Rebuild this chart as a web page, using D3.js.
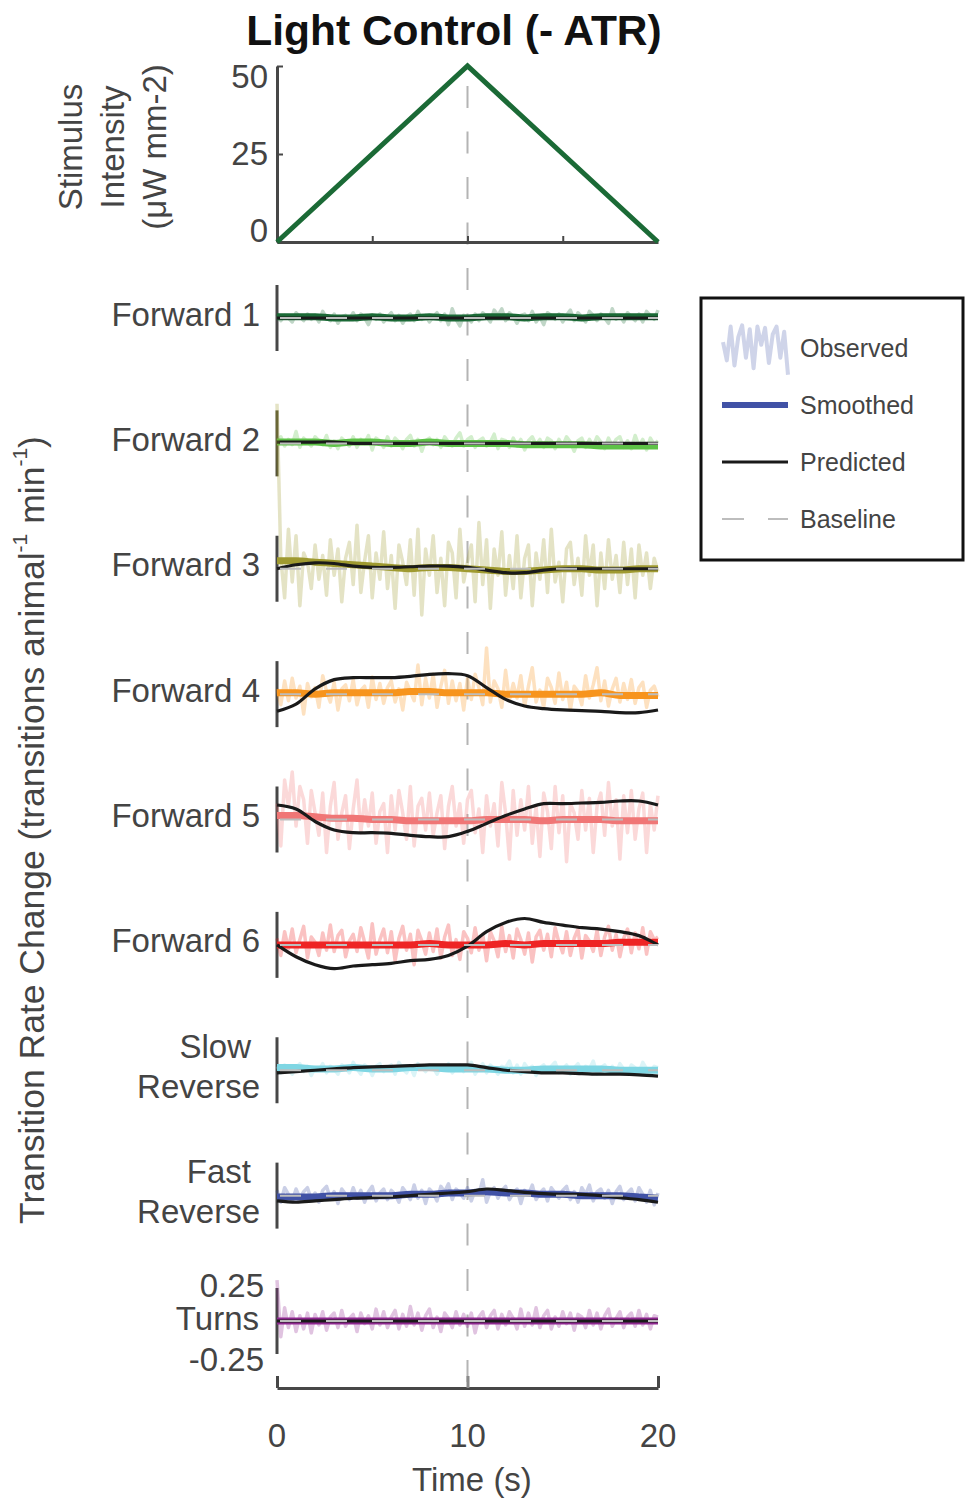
<!DOCTYPE html>
<html>
<head>
<meta charset="utf-8">
<script src="https://cdn.jsdelivr.net/npm/d3@7"></script>
<style>
  body { margin: 0; background: #fff; }
  svg { display: block; }
  text { font-family: "Liberation Sans", Arial, Helvetica, sans-serif; }
</style>
</head>
<body>
<svg id="chart" width="969" height="1501"></svg>
<script>
// ---- data ----
const behaviors = ["Forward 1", "Forward 2", "Forward 3", "Forward 4", "Forward 5",
  "Forward 6", "Slow Reverse", "Fast Reverse", "Turns"];
const behaviorColors = ["#1b6a36", "#5ec247", "#9f9a30", "#f7941d", "#f07676",
  "#ee2424", "#7fd6e3", "#4152a6", "#8e278f"];

const stimTimes = [0, 10, 20];
const stimValues = [0, 50, 0];
const stimTicks = [0, 25, 50];
const timeTicks = [0, 10, 20];
const turnTicks = [0.25, -0.25];

// observed traces, one sample every 0.2 s
const OBS_DT = 0.2;
const obsF1 = [0.03,-0.02,0.02,0.00,-0.03,0.04,0.01,-0.02,0.03,-0.01,
  0.02,-0.03,0.05,0.00,-0.02,0.03,-0.04,0.01,0.02,-0.01,
  0.04,-0.02,0.03,0.00,-0.05,0.02,-0.01,0.03,-0.03,0.01,
  0.04,-0.02,0.02,-0.04,0.01,0.03,-0.02,0.05,-0.01,0.02,
  -0.03,0.01,0.04,-0.02,0.03,-0.05,0.07,-0.01,-0.06,0.02,
  0.01,-0.03,0.03,-0.02,0.04,0.01,-0.03,0.06,0.02,0.07,
  -0.02,0.04,0.01,-0.04,0.02,0.03,-0.02,0.05,-0.03,0.01,
  -0.05,0.04,0.02,-0.01,0.03,-0.03,0.02,0.06,-0.02,0.04,
  0.01,-0.03,0.05,0.02,-0.02,0.03,0.00,-0.04,0.07,-0.01,
  0.02,-0.03,0.04,0.01,-0.02,0.03,-0.03,0.05,0.02,-0.01,0.06];
const obsF2 = [0.02,0.05,-0.02,0.03,-0.01,0.09,-0.03,0.04,0.01,-0.02,
  0.05,0.02,-0.01,0.06,-0.03,0.02,-0.04,0.04,0.01,-0.02,
  0.05,-0.03,0.03,0.00,0.06,-0.05,0.04,0.02,-0.03,0.05,
  -0.02,0.04,0.01,-0.04,0.03,0.06,-0.02,0.03,-0.06,0.02,
  0.04,-0.01,0.03,-0.03,0.05,0.01,-0.02,0.04,0.08,-0.02,
  0.03,0.05,-0.03,0.02,0.04,-0.02,0.01,0.07,-0.04,0.03,
  0.02,-0.03,0.04,-0.02,0.03,-0.05,0.02,0.05,-0.01,0.03,
  -0.03,0.04,0.02,-0.04,0.03,-0.02,0.05,0.01,-0.06,0.02,
  0.04,-0.03,0.03,-0.02,0.05,0.01,-0.04,0.04,-0.02,0.03,
  0.05,-0.03,0.02,-0.04,0.06,-0.02,0.03,-0.05,0.04,-0.01,0.02];
const obsF3 = [1.25,0.08,-0.22,0.30,-0.10,0.25,-0.28,0.12,0.05,-0.15,
  0.18,-0.08,0.10,-0.20,0.22,-0.05,0.15,-0.25,0.08,0.20,
  -0.12,0.33,-0.18,0.06,0.25,-0.22,0.12,-0.08,0.28,-0.15,
  0.10,-0.30,0.18,0.05,-0.12,0.22,-0.20,0.30,-0.35,0.15,
  -0.05,0.25,-0.18,0.08,-0.28,0.20,0.12,-0.22,0.30,-0.10,
  0.05,0.18,-0.25,0.35,-0.12,0.22,-0.30,0.15,-0.05,0.28,
  -0.20,0.10,-0.15,0.25,-0.22,0.08,0.18,-0.28,0.12,-0.08,
  0.22,-0.18,0.30,-0.10,0.05,-0.25,0.15,0.20,-0.12,0.08,
  -0.20,0.25,-0.05,0.18,-0.28,0.12,-0.15,0.22,-0.08,0.10,
  -0.18,0.20,-0.12,0.15,-0.22,0.18,-0.05,0.12,-0.15,0.08,-0.02];
const obsF4 = [0.04,-0.08,0.10,-0.05,0.12,-0.03,0.06,-0.15,0.08,-0.02,
  0.05,-0.10,0.14,0.02,-0.06,0.09,-0.12,0.04,0.07,-0.05,
  0.11,-0.08,0.03,0.06,-0.10,0.13,-0.04,0.08,-0.07,0.05,
  0.10,-0.06,0.04,-0.12,0.09,0.02,-0.05,0.22,-0.08,0.12,
  -0.03,0.15,-0.10,0.06,0.18,-0.07,0.10,-0.05,0.08,-0.12,
  0.12,-0.04,0.15,0.05,-0.08,0.35,-0.06,0.10,0.04,-0.10,
  0.18,-0.05,0.08,-0.03,0.14,-0.09,0.06,0.20,-0.06,0.03,
  -0.10,0.12,0.05,-0.07,0.16,-0.04,0.09,-0.12,0.06,0.02,
  -0.08,0.14,-0.03,0.07,0.20,-0.05,0.10,-0.09,0.04,0.12,
  -0.06,0.08,-0.04,0.11,-0.07,0.05,0.09,-0.10,0.03,0.06,-0.02];
const obsF5 = [0.12,-0.20,0.30,0.10,0.36,-0.05,0.25,0.15,-0.18,0.22,
  0.05,-0.12,0.20,-0.25,0.10,0.28,-0.15,0.05,0.18,-0.22,
  0.08,0.30,-0.10,0.15,-0.05,0.20,-0.18,0.06,0.12,-0.25,
  0.18,-0.08,0.22,0.05,-0.15,0.25,-0.20,0.10,0.16,-0.08,
  0.20,-0.12,0.05,0.18,-0.22,0.10,0.25,-0.05,0.12,-0.18,
  0.15,0.22,-0.10,0.08,-0.25,0.18,-0.05,0.12,-0.20,0.28,
  0.05,-0.30,0.22,-0.12,0.15,-0.08,0.25,-0.18,0.10,-0.28,
  0.20,0.06,-0.22,0.25,-0.10,0.18,-0.32,0.12,0.05,-0.15,
  0.22,-0.08,0.16,-0.25,0.10,0.20,-0.12,0.28,-0.05,0.15,
  -0.30,0.18,-0.10,0.22,-0.15,0.08,0.20,-0.25,0.12,-0.08,0.18];
const obsF6 = [0.05,-0.08,0.10,-0.03,0.12,-0.06,0.04,0.14,-0.10,0.06,
  0.02,-0.08,0.09,-0.04,0.15,-0.05,0.07,0.11,-0.09,0.03,
  0.08,-0.05,0.13,0.02,-0.10,0.16,-0.07,0.04,0.12,-0.06,
  0.10,-0.12,0.05,0.14,-0.04,0.08,-0.15,0.11,0.03,-0.07,
  0.09,-0.05,0.12,-0.10,0.06,0.15,-0.08,0.04,-0.11,0.10,
  0.05,-0.06,0.13,-0.04,0.08,-0.12,0.10,0.03,-0.09,0.14,
  -0.05,0.07,-0.10,0.12,0.04,-0.07,0.09,-0.13,0.06,0.11,
  -0.04,0.08,-0.09,0.13,0.02,-0.06,0.10,-0.08,0.05,0.12,
  -0.10,0.07,0.03,-0.05,0.11,-0.08,0.06,0.14,-0.04,0.08,
  -0.09,0.05,0.12,-0.06,0.09,-0.03,0.13,-0.07,0.10,0.04,0.06];
const obsSR = [0.03,-0.02,0.04,0.01,-0.03,0.02,0.05,-0.01,0.03,-0.04,
  0.02,0.00,0.05,-0.02,0.03,0.01,-0.03,0.04,0.02,-0.02,
  0.06,0.01,-0.03,0.04,0.02,-0.04,0.03,0.05,-0.01,0.02,
  0.04,-0.03,0.06,0.01,-0.02,0.03,-0.04,0.05,0.02,-0.01,
  0.04,0.02,-0.03,0.03,0.01,0.05,-0.02,0.02,0.04,-0.01,
  0.03,0.06,-0.03,0.02,0.05,-0.02,0.04,0.01,-0.03,0.03,
  0.02,0.07,-0.02,0.04,-0.03,0.05,0.01,0.03,-0.04,0.02,
  0.04,-0.01,0.03,0.06,-0.02,0.01,0.04,-0.03,0.02,0.05,
  -0.02,0.03,0.01,0.07,-0.03,0.02,0.04,-0.01,0.03,-0.02,
  0.05,0.01,-0.03,0.04,0.02,-0.02,0.06,0.01,-0.01,0.03,0.02];
const obsFR = [0.04,-0.05,0.06,0.01,-0.04,0.05,-0.02,0.03,0.06,-0.03,
  0.02,-0.05,0.04,0.07,-0.02,0.03,-0.06,0.05,0.01,-0.03,
  0.06,-0.02,0.04,-0.05,0.03,0.07,-0.04,0.02,0.05,-0.03,
  0.04,0.01,-0.05,0.06,0.02,-0.03,0.08,-0.02,0.04,-0.06,
  0.05,0.02,-0.04,0.07,0.03,0.09,-0.03,0.05,0.02,-0.02,
  0.06,-0.04,0.04,0.01,0.12,-0.05,0.03,0.06,-0.02,0.04,
  0.07,-0.03,0.02,0.05,-0.06,0.04,0.01,0.08,-0.03,0.02,
  0.05,-0.04,0.06,0.02,-0.02,0.04,0.07,-0.03,0.03,-0.05,
  0.06,0.01,0.08,-0.04,0.03,0.05,-0.02,0.04,-0.06,0.03,
  0.07,-0.03,0.02,0.05,-0.04,0.06,0.01,-0.05,0.04,-0.07,0.02];
const obsT = [0.31,-0.12,0.10,-0.05,0.07,-0.08,0.04,-0.06,0.06,-0.09,
  0.05,-0.03,0.07,-0.07,0.03,0.06,-0.05,0.08,-0.04,0.02,
  0.05,-0.08,0.06,-0.02,0.04,-0.06,0.09,-0.03,0.07,-0.05,
  0.03,0.08,-0.06,0.05,-0.04,0.11,-0.03,0.06,-0.07,0.04,
  0.09,-0.05,0.03,-0.08,0.06,0.02,-0.05,0.07,-0.03,0.05,
  -0.04,0.06,-0.09,0.03,0.07,-0.05,0.04,0.08,-0.06,0.05,
  -0.03,0.07,0.02,-0.06,0.09,-0.04,0.06,-0.03,0.10,-0.05,
  0.04,0.08,-0.06,0.03,-0.04,0.07,-0.02,0.06,-0.07,0.05,
  0.03,-0.05,0.08,-0.03,0.06,-0.06,0.04,0.09,-0.04,0.02,
  0.07,-0.05,0.03,0.06,-0.04,0.08,-0.03,0.05,-0.06,0.04,0.03];

// smoothed and predicted, one sample per second
const smoothF1 = [0.01,0.01,0.01,0.00,0.00,0.01,0.00,0.00,0.01,0.00,0.00,0.01,0.01,0.00,0.01,0.01,0.00,0.01,0.01,0.01,0.01];
const smoothF2 = [0.01,0.01,0.01,0.00,0.01,0.01,0.00,0.00,0.01,0.00,0.00,0.00,0.00,-0.01,-0.01,-0.01,-0.01,-0.02,-0.02,-0.02,-0.02];
const smoothF3 = [0.06,0.06,0.05,0.04,0.03,0.02,0.01,0.00,0.01,0.01,0.00,-0.01,-0.02,-0.02,-0.01,0.00,0.00,-0.01,-0.01,0.00,0.00];
const smoothF4 = [0.01,0.01,0.00,0.01,0.01,0.01,0.01,0.02,0.02,0.01,0.01,0.01,0.00,0.00,0.00,0.00,0.00,0.01,-0.01,-0.01,-0.01];
const smoothF5 = [0.03,0.03,0.02,0.01,0.01,0.00,0.00,-0.01,-0.01,-0.01,-0.01,0.00,0.00,0.00,-0.01,0.00,0.00,0.00,-0.01,-0.01,-0.01];
const smoothF6 = [0.00,0.00,0.00,0.00,0.00,0.00,0.00,0.00,0.01,0.00,0.00,0.00,0.01,0.00,0.01,0.01,0.01,0.01,0.02,0.02,0.02];
const smoothSR = [0.02,0.02,0.01,0.01,0.02,0.01,0.01,0.02,0.02,0.01,0.01,0.01,0.00,0.00,0.01,0.01,0.01,0.01,0.00,0.00,0.00];
const smoothFR = [-0.01,-0.01,-0.01,0.00,0.00,0.00,0.00,0.01,0.01,0.02,0.02,0.03,0.02,0.02,0.01,0.01,0.00,0.00,0.00,-0.01,-0.02];
const smoothT = [0.00,0.00,0.00,0.00,0.00,0.00,0.00,0.00,0.00,0.00,0.00,0.00,0.00,0.00,0.00,0.00,0.00,0.00,0.00,0.00,0.00];

const predF1 = [0.00,0.00,0.00,0.00,0.00,0.00,0.00,0.00,0.00,0.00,0.00,0.00,0.00,0.00,0.00,0.00,0.00,0.00,0.00,0.00,0.00];
const predF2 = [0.01,0.01,0.01,0.01,0.00,0.00,0.00,0.00,0.00,0.00,0.00,0.00,0.00,0.00,0.00,0.00,0.00,0.00,0.00,0.00,0.00];
const predF3 = [0.00,0.03,0.045,0.04,0.02,0.01,0.01,0.015,0.02,0.02,0.01,-0.01,-0.03,-0.03,-0.01,0.00,0.00,0.00,0.00,0.00,0.00];
const predF4 = [-0.13,-0.076,0.04,0.11,0.125,0.125,0.125,0.135,0.15,0.155,0.14,0.05,-0.04,-0.09,-0.11,-0.12,-0.125,-0.13,-0.14,-0.14,-0.12];
const predF5 = [0.11,0.08,-0.015,-0.08,-0.10,-0.10,-0.105,-0.12,-0.13,-0.13,-0.09,-0.03,0.03,0.08,0.12,0.12,0.125,0.13,0.14,0.14,0.11];
const predF6 = [0.00,-0.09,-0.15,-0.18,-0.16,-0.15,-0.14,-0.12,-0.11,-0.08,-0.01,0.10,0.17,0.20,0.17,0.15,0.13,0.12,0.10,0.07,0.00];
const predSR = [-0.02,-0.01,0.00,0.01,0.02,0.025,0.03,0.035,0.04,0.04,0.04,0.02,0.00,-0.01,-0.02,-0.02,-0.025,-0.03,-0.03,-0.035,-0.045];
const predFR = [-0.04,-0.05,-0.04,-0.03,-0.02,-0.015,-0.01,0.00,0.01,0.02,0.03,0.05,0.04,0.025,0.015,0.01,0.01,0.00,-0.015,-0.03,-0.05];
const predT = [0.00,0.00,0.00,0.00,0.00,0.00,0.00,0.00,0.00,0.00,0.00,0.00,0.00,0.00,0.00,0.00,0.00,0.00,0.00,0.00,0.00];

const observed = [obsF1, obsF2, obsF3, obsF4, obsF5, obsF6, obsSR, obsFR, obsT];
const smoothed = [smoothF1, smoothF2, smoothF3, smoothF4, smoothF5, smoothF6, smoothSR, smoothFR, smoothT];
const predicted = [predF1, predF2, predF3, predF4, predF5, predF6, predSR, predFR, predT];

const legendItems = ["Observed", "Smoothed", "Predicted", "Baseline"];
const legendSquiggle = [0.3,-0.4,0.9,-0.6,0.5,0.95,-0.3,0.8,-0.7,0.9,0.2,0.85,-0.5,0.6,0.9,-0.3,0.7,-0.95];

// ---- layout ----
const AXIS_COLOR = "#474747";
const TEXT_COLOR = "#444";
const FONT = 33;

const svg = d3.select("#chart");

const x = d3.scaleLinear().domain([0, 20]).range([277, 658]);
const stimY = d3.scaleLinear().domain([0, 50]).range([242, 66]);
const stimLabelY = d3.scaleLinear().domain([0, 50]).range([230, 76]);
const rowY = d3.scalePoint().domain(behaviors).range([318, 1321]);
const dY = d3.scaleLinear().domain([-0.25, 0.25]).range([33, -33]);
const timeAxisY = 1388;

const yOf = (row, v) => rowY(row) + dY(v);

// title
svg.append("text")
  .attr("x", 454).attr("y", 45)
  .attr("text-anchor", "middle")
  .attr("font-size", 42.5).attr("font-weight", "bold")
  .attr("fill", "#111")
  .text("Light Control (- ATR)");

// stimulus y label (three lines)
const stimLabelLines = ["Stimulus", "Intensity", "(\u03bcW mm-2)"];
svg.append("g").selectAll("text")
  .data(stimLabelLines)
  .join("text")
  .attr("transform", (d, i) => `translate(${70 + i * 42},147) rotate(-90)`)
  .attr("text-anchor", "middle")
  .attr("dominant-baseline", "central")
  .attr("font-size", FONT)
  .attr("fill", TEXT_COLOR)
  .text(d => d);

// main y label
const yLab = svg.append("text")
  .attr("transform", "translate(32,830) rotate(-90)")
  .attr("text-anchor", "middle")
  .attr("dominant-baseline", "central")
  .attr("font-size", 35.5)
  .attr("fill", TEXT_COLOR);
yLab.append("tspan").text("Transition Rate Change (transitions animal");
yLab.append("tspan").attr("font-size", 21).attr("dy", -13).text("-1");
yLab.append("tspan").attr("dy", 13).text(" min");
yLab.append("tspan").attr("font-size", 21).attr("dy", -13).text("-1");
yLab.append("tspan").attr("dy", 13).text(")");

// center dashed line at the stimulus peak
svg.append("line")
  .attr("x1", x(10)).attr("x2", x(10))
  .attr("y1", stimY(50)).attr("y2", timeAxisY)
  .attr("stroke", "#b4b4b4")
  .attr("stroke-width", 2)
  .attr("stroke-dasharray", "22,23.5")
  .attr("stroke-dashoffset", -20);

// stimulus axes
function styleAxis(g) {
  g.select(".domain").attr("stroke", AXIS_COLOR).attr("stroke-width", 3);
  g.selectAll(".tick line").attr("stroke", AXIS_COLOR).attr("stroke-width", 2);
  g.selectAll(".tick text").remove();
}

svg.append("g")
  .attr("transform", `translate(${x(0)},0)`)
  .call(d3.axisLeft(stimY).tickValues(stimTicks).tickSizeInner(-6).tickSizeOuter(0))
  .call(styleAxis);

svg.append("g")
  .attr("transform", `translate(0,${stimY(0)})`)
  .call(d3.axisBottom(x).tickValues([5, 10, 15]).tickSizeInner(-6).tickSizeOuter(0))
  .call(styleAxis);

svg.append("g").selectAll("text")
  .data(stimTicks)
  .join("text")
  .attr("x", 268)
  .attr("y", d => stimLabelY(d))
  .attr("text-anchor", "end")
  .attr("dominant-baseline", "central")
  .attr("font-size", FONT)
  .attr("fill", TEXT_COLOR)
  .text(d => d);

svg.append("path")
  .datum(stimTimes.map((t, i) => [t, stimValues[i]]))
  .attr("fill", "none")
  .attr("stroke", behaviorColors[0])
  .attr("stroke-width", 5)
  .attr("d", d3.line().x(d => x(d[0])).y(d => stimY(d[1])));

// behaviour axes (vertical lines only)
const axisColors = behaviors.map(b => b === "Forward 2" ? "#56543a" : AXIS_COLOR);
behaviors.forEach((b, i) => {
  svg.append("line")
    .attr("x1", x(0)).attr("x2", x(0))
    .attr("y1", yOf(b, 0.25)).attr("y2", yOf(b, -0.25))
    .attr("stroke", axisColors[i])
    .attr("stroke-width", 3);
});

// behaviour labels
const labelLines = behaviors.map(b => b.includes("Reverse") ? b.split(" ") : [b]);
behaviors.forEach((b, i) => {
  const lines = labelLines[i];
  if (b === "Turns") {
    svg.append("text")
      .attr("x", 259).attr("y", rowY(b) - 3)
      .attr("text-anchor", "end").attr("dominant-baseline", "central")
      .attr("font-size", FONT).attr("fill", TEXT_COLOR)
      .text(b);
    svg.append("g").selectAll("text")
      .data(turnTicks)
      .join("text")
      .attr("x", 264)
      .attr("y", d => yOf(b, d) + (d > 0 ? -3 : 5))
      .attr("text-anchor", "end").attr("dominant-baseline", "central")
      .attr("font-size", FONT).attr("fill", TEXT_COLOR)
      .text(d => d);
  } else if (lines.length === 2) {
    svg.append("text")
      .attr("x", 251).attr("y", rowY(b) - 24)
      .attr("text-anchor", "end").attr("dominant-baseline", "central")
      .attr("font-size", FONT).attr("fill", TEXT_COLOR)
      .text(lines[0]);
    svg.append("text")
      .attr("x", 260).attr("y", rowY(b) + 16)
      .attr("text-anchor", "end").attr("dominant-baseline", "central")
      .attr("font-size", FONT).attr("fill", TEXT_COLOR)
      .text(lines[1]);
  } else {
    svg.append("text")
      .attr("x", 260).attr("y", rowY(b) - 4)
      .attr("text-anchor", "end").attr("dominant-baseline", "central")
      .attr("font-size", FONT).attr("fill", TEXT_COLOR)
      .text(b);
  }
});

// traces
behaviors.forEach((b, i) => {
  const color = behaviorColors[i];
  const g = svg.append("g");

  g.append("path")
    .datum(observed[i])
    .attr("fill", "none")
    .attr("stroke", color)
    .attr("stroke-opacity", 0.28)
    .attr("stroke-width", 3.5)
    .attr("stroke-linejoin", "round")
    .attr("d", d3.line().x((d, k) => x(k * OBS_DT)).y(d => yOf(b, d)));

  g.append("path")
    .datum(smoothed[i])
    .attr("fill", "none")
    .attr("stroke", color)
    .attr("stroke-width", 7)
    .attr("d", d3.line().curve(d3.curveMonotoneX).x((d, k) => x(k)).y(d => yOf(b, d)));

  g.append("path")
    .datum(predicted[i])
    .attr("fill", "none")
    .attr("stroke", "#1a1a1a")
    .attr("stroke-width", 3.2)
    .attr("d", d3.line().curve(d3.curveCatmullRom).x((d, k) => x(k)).y(d => yOf(b, d)));

  g.append("line")
    .attr("x1", x(0)).attr("x2", x(20))
    .attr("y1", yOf(b, 0)).attr("y2", yOf(b, 0))
    .attr("stroke", "#bdbdbd")
    .attr("stroke-width", 2)
    .attr("stroke-dasharray", "21,25")
    .attr("stroke-dashoffset", -3);
});

// time axis
const timeAxis = svg.append("g")
  .attr("transform", `translate(0,${timeAxisY})`)
  .call(d3.axisBottom(x).tickValues(timeTicks).tickSizeInner(-12).tickSizeOuter(0))
  .call(styleAxis);
timeAxis.selectAll(".tick line").attr("stroke-width", 3);
timeAxis.selectAll(".tick line").filter(d => d === 10).attr("stroke", "#8a8a8a");

svg.append("g").selectAll("text")
  .data(timeTicks)
  .join("text")
  .attr("x", d => x(d))
  .attr("y", 1435)
  .attr("text-anchor", "middle")
  .attr("dominant-baseline", "central")
  .attr("font-size", FONT)
  .attr("fill", TEXT_COLOR)
  .text(d => d);

svg.append("text")
  .attr("x", 472).attr("y", 1479)
  .attr("text-anchor", "middle")
  .attr("dominant-baseline", "central")
  .attr("font-size", FONT)
  .attr("fill", TEXT_COLOR)
  .text("Time (s)");

// legend
const legend = svg.append("g");
legend.append("rect")
  .attr("x", 701).attr("y", 298)
  .attr("width", 262).attr("height", 262)
  .attr("fill", "#fff")
  .attr("stroke", "#111")
  .attr("stroke-width", 3);

const legendRowY = d3.scalePoint().domain(legendItems).range([348, 519]);
const lx = d3.scaleLinear().domain([0, legendSquiggle.length - 1]).range([723, 788]);
const ly = d3.scaleLinear().domain([-1, 1]).range([376, 324]);

legend.append("path")
  .datum(legendSquiggle)
  .attr("fill", "none")
  .attr("stroke", behaviorColors[7])
  .attr("stroke-opacity", 0.25)
  .attr("stroke-width", 4)
  .attr("stroke-linejoin", "round")
  .attr("d", d3.line().x((d, k) => lx(k)).y(d => ly(d)));

legend.append("line")
  .attr("x1", 722).attr("x2", 788)
  .attr("y1", legendRowY("Smoothed")).attr("y2", legendRowY("Smoothed"))
  .attr("stroke", behaviorColors[7]).attr("stroke-width", 6);

legend.append("line")
  .attr("x1", 722).attr("x2", 788)
  .attr("y1", legendRowY("Predicted")).attr("y2", legendRowY("Predicted"))
  .attr("stroke", "#1a1a1a").attr("stroke-width", 3);

legend.append("line")
  .attr("x1", 722).attr("x2", 788)
  .attr("y1", legendRowY("Baseline")).attr("y2", legendRowY("Baseline"))
  .attr("stroke", "#bdbdbd").attr("stroke-width", 2)
  .attr("stroke-dasharray", "22,24");

legend.selectAll("text.item")
  .data(legendItems)
  .join("text")
  .attr("class", "item")
  .attr("x", 800)
  .attr("y", d => legendRowY(d))
  .attr("dominant-baseline", "central")
  .attr("font-size", 25)
  .attr("fill", TEXT_COLOR)
  .text(d => d);
</script>
</body>
</html>
